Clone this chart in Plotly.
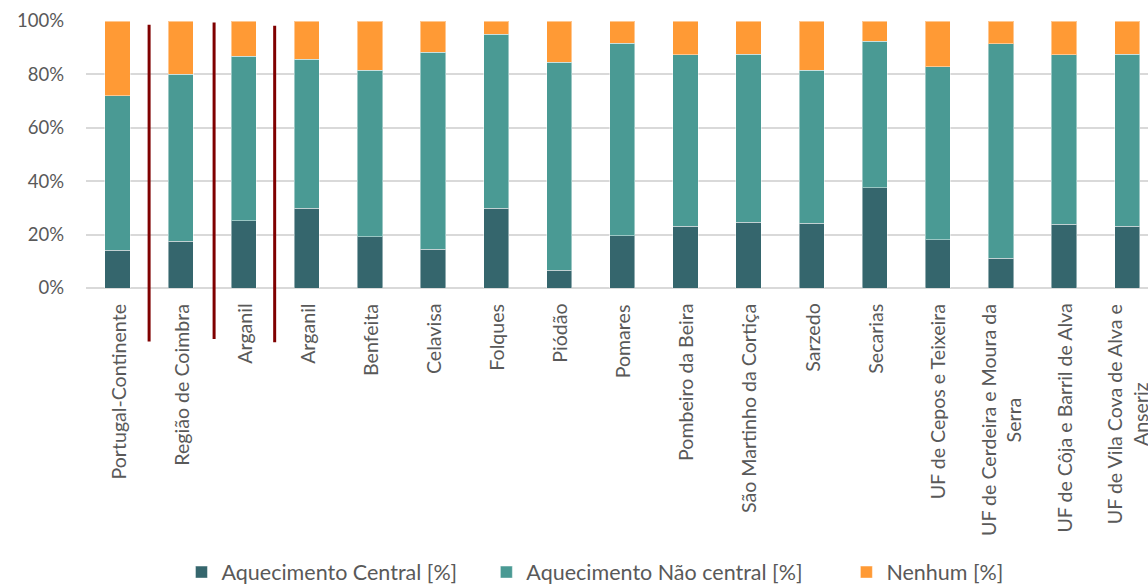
import plotly.graph_objects as go

# Freguesias / regiões
categories = [
    "Portugal-Continente", "Região de Coimbra", "Arganil", "Arganil",
    "Benfeita", "Celavisa", "Folques", "Piódão", "Pomares",
    "Pombeiro da Beira", "São Martinho da Cortiça", "Sarzedo", "Secarias",
    "UF de Cepos e Teixeira", "UF de Cerdeira e Moura da<br>Serra",
    "UF de Côja e Barril de Alva", "UF de Vila Cova de Alva e<br>Anseriz",
]

central = [14.1, 17.5, 25.1, 29.8, 19.2, 14.6, 29.8, 6.7, 19.5,
           23.2, 24.6, 24.2, 37.5, 18.0, 11.2, 23.8, 23.2]
nao_central = [57.9, 62.5, 61.7, 55.8, 62.3, 73.7, 65.2, 77.8, 72.1,
               64.1, 62.9, 57.4, 55.0, 64.8, 80.2, 63.5, 64.4]
nenhum = [28.0, 20.0, 13.2, 14.4, 18.5, 11.7, 5.0, 15.5, 8.4,
          12.7, 12.5, 18.4, 7.5, 17.2, 8.6, 12.7, 12.4]

series_names = ["Aquecimento Central [%]", "Aquecimento Não central [%]", "Nenhum [%]"]
series_colors = ["#35666D", "#4A9A94", "#FF9A35"]

y_ticks = [0, 20, 40, 60, 80, 100]
y_ticktext = [f"{v}%" for v in y_ticks]

# separators between the reference groups: (category position, top %, bottom %)
separators = [(0.5, 98.6, -20.0), (1.53, 99.4, -19.1), (2.49, 98.2, -20.3)]

X_RANGE = [-0.5, 16.33]
Y_RANGE = [0, 100]
positions = list(range(len(categories)))

fig = go.Figure()
legend_ids = ["legend", "legend2", "legend3"]
for vals, name, color, lg in zip([central, nao_central, nenhum], series_names,
                                 series_colors, legend_ids):
    fig.add_trace(go.Bar(
        x=positions, y=vals, name=name,
        marker=dict(color=color, line=dict(color="rgba(255,255,255,0.45)", width=1)),
        width=0.4, legend=lg,
    ))


def to_paper_x(v):
    return (v - X_RANGE[0]) / (X_RANGE[1] - X_RANGE[0])


def to_paper_y(v):
    return (v - Y_RANGE[0]) / (Y_RANGE[1] - Y_RANGE[0])


shapes = []
for pos, top, bottom in separators:
    px = to_paper_x(pos)
    shapes.append(dict(type="line", xref="paper", yref="paper",
                       x0=px, x1=px, y0=to_paper_y(bottom), y1=to_paper_y(top),
                       line=dict(color="#7F0000", width=3)))

font_family = "Lato"
label_color = "#595959"

# rotated category labels, multi-line ones centred on each other
annotations = [
    dict(x=p, xref="x", y=0, yref="paper", text=lab, showarrow=False,
         textangle=-90, xanchor="center", yanchor="top", yshift=-14,
         align="center",
         font=dict(family=font_family, size=19.6, color=label_color))
    for p, lab in zip(positions, categories)
]

legend_font = dict(family=font_family, size=21.5, color=label_color)
legend_common = dict(orientation="h", yanchor="middle", y=-1.064, xanchor="left",
                     font=legend_font, bgcolor="rgba(0,0,0,0)", borderwidth=0)

fig.update_layout(
    width=1148, height=587,
    margin=dict(l=86, r=0, t=21, b=299, autoexpand=False),
    barmode="stack",
    plot_bgcolor="white", paper_bgcolor="white",
    showlegend=True,
    legend=dict(x=0.0899, **legend_common),
    legend2=dict(x=0.377, **legend_common),
    legend3=dict(x=0.716, **legend_common),
    shapes=shapes,
    annotations=annotations,
    xaxis=dict(
        range=X_RANGE, showticklabels=False,
        showgrid=False, zeroline=False, showline=False, ticks="",
    ),
    yaxis=dict(
        range=Y_RANGE, tickmode="array", tickvals=y_ticks, ticktext=y_ticktext,
        tickfont=dict(family=font_family, size=18.5, color=label_color),
        showgrid=True, gridcolor="#D9D9D9", gridwidth=1.5,
        zeroline=True, zerolinecolor="#D9D9D9", zerolinewidth=1.5,
        showline=False, ticks="", ticklabelstandoff=21,
    ),
)

fig.write_html("out.html")
